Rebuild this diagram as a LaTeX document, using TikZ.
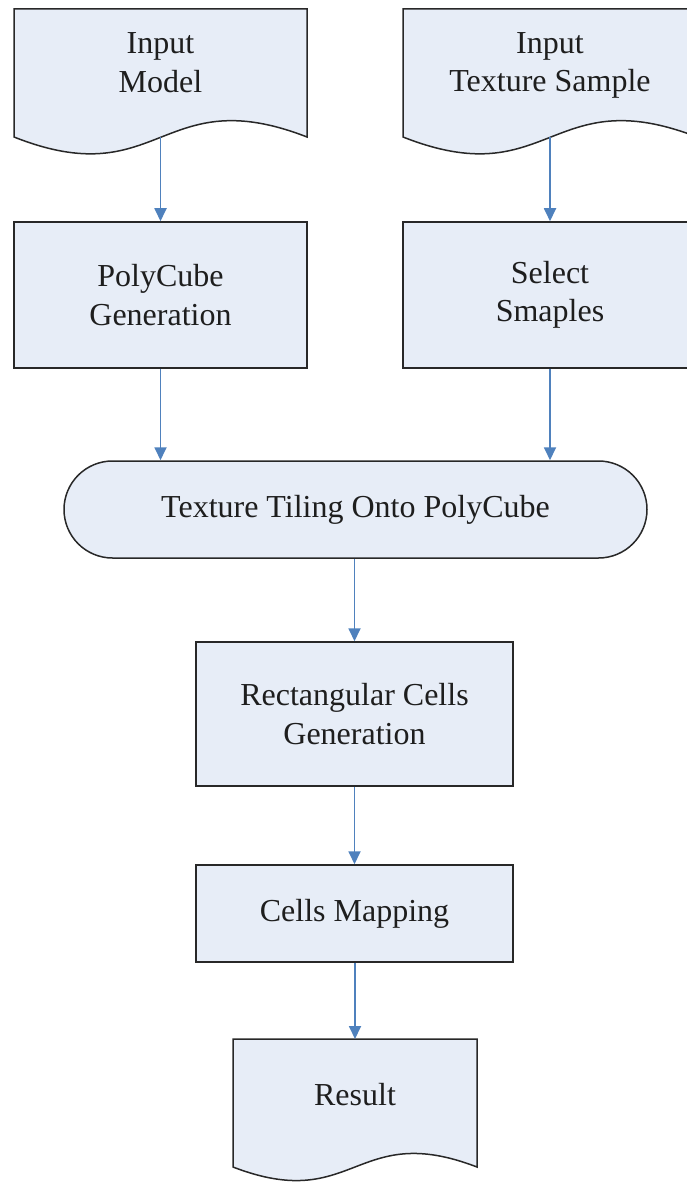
\documentclass[tikz,border=0pt]{standalone}
\usepackage{fontspec}
\setmainfont{Liberation Serif}
\usetikzlibrary{arrows.meta}
\definecolor{boxfill}{RGB}{231,237,247}
\definecolor{boxline}{RGB}{40,40,40}
\definecolor{textgray}{RGB}{30,30,30}
\definecolor{flowblue}{RGB}{79,129,189}
\tikzset{
  shapeline/.style={draw=boxline, line width=1.5pt, fill=boxfill},
  procbox/.style={shapeline, rectangle, inner sep=0pt, align=center},
  label/.style={align=center, inner sep=0pt, text=textgray, font=\fontsize{32}{38.5}\selectfont},
  flow/.style={draw=flowblue, line width=1.8pt, -{Triangle[length=13pt,width=12pt]}}
}
\begin{document}
\begin{tikzpicture}[x=1pt, y=-1pt]
\useasboundingbox (0,0) rectangle (686,1182);

% document shapes with a wavy lower edge
\draw[shapeline] (14,9) -- (307,9) -- (307,137)
  .. controls (160.5,80) and (160.5,195) .. (14,137) -- cycle;
\draw[shapeline] (403,9) -- (697,9) -- (697,137)
  .. controls (550,80) and (550,195) .. (403,137) -- cycle;
\draw[shapeline] (233,1039) -- (477,1039) -- (477,1167)
  .. controls (355,1120) and (355,1214) .. (233,1167) -- cycle;

\coordinate (imw) at (160.5,137);
\coordinate (tsw) at (550,137);
\coordinate (rtop) at (355,1039);

\node[label] (im) at (160.5,62.5) {Input\\Model};
\node[label] (ts) at (550,65.5) {Input\\Texture Sample};
\node[label] (res) at (355,1095) {Result};

% process boxes
\node[procbox, minimum width=293pt, minimum height=146pt, label] (pc) at (160.5,295) {PolyCube\\Generation};
\node[procbox, minimum width=294pt, minimum height=146pt, label] (sel) at (550,295) {Select\\Smaples};
\node[procbox, rounded corners=48.5pt, minimum width=583pt, minimum height=97pt, label] (tt) at (355.5,509.5) {Texture Tiling Onto PolyCube};
\node[procbox, minimum width=317pt, minimum height=144pt, label] (rc) at (354.5,714) {Rectangular Cells\\Generation};
\node[procbox, minimum width=317pt, minimum height=97pt, label] (cm) at (354.5,913.5) {Cells Mapping};

% connectors
\draw[flow] (imw) -- (pc);
\draw[flow] (tsw) -- (sel);
\draw[flow] (pc.south) -- (pc.south |- tt.north);
\draw[flow] (sel.south) -- (sel.south |- tt.north);
\draw[flow] (tt.south -| rc.north) -- (rc.north);
\draw[flow] (rc) -- (cm);
\draw[flow] (cm.south -| rtop) -- (rtop);
\end{tikzpicture}
\end{document}
